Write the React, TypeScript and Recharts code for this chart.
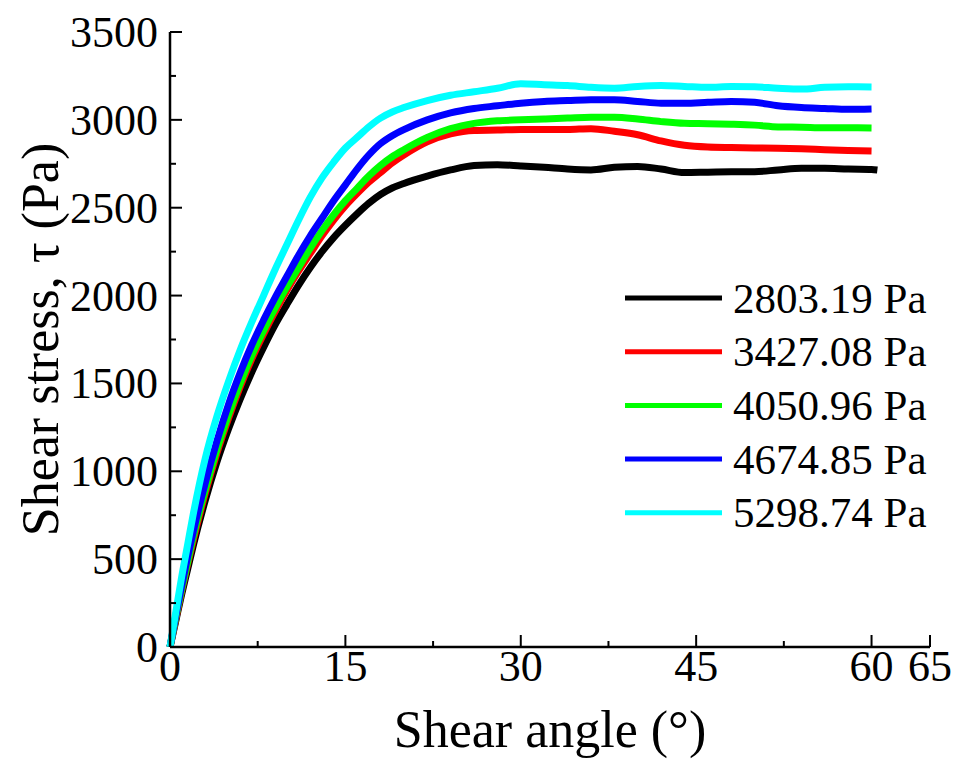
import { LineChart, Line, XAxis, YAxis, Legend, Label } from "recharts";

const angles = [0, 0.5, 1, 1.5, 2, 3, 4, 5, 6, 7, 8, 9, 10, 11, 12, 13, 14, 15, 16, 17, 18, 19, 20, 22, 24, 26, 28, 30, 32, 34, 36, 38, 40, 42, 44, 46, 48, 50, 52, 54, 56, 58, 60, 60.5];

const s2803 = [0, 150, 300, 440, 580, 830, 1050, 1240, 1410, 1565, 1705, 1835, 1950, 2060, 2160, 2250, 2330, 2400, 2465, 2525, 2575, 2612, 2638, 2680, 2715, 2740, 2745, 2738, 2730, 2720, 2715, 2730, 2735, 2720, 2700, 2702, 2704, 2705, 2715, 2725, 2725, 2720, 2718, 2715];
const s3427 = [0, 160, 320, 470, 610, 870, 1100, 1300, 1480, 1640, 1780, 1910, 2030, 2140, 2240, 2340, 2430, 2510, 2580, 2645, 2700, 2755, 2800, 2875, 2920, 2940, 2942, 2945, 2945, 2945, 2950, 2935, 2915, 2880, 2855, 2845, 2842, 2840, 2838, 2835, 2830, 2826, 2823, null];
const s4050 = [0, 170, 330, 480, 630, 890, 1120, 1320, 1500, 1660, 1800, 1930, 2050, 2160, 2270, 2370, 2460, 2540, 2610, 2680, 2740, 2790, 2830, 2900, 2950, 2980, 2995, 3000, 3005, 3010, 3015, 3015, 3005, 2990, 2980, 2978, 2975, 2970, 2960, 2958, 2955, 2955, 2954, null];
const s4674 = [0, 180, 350, 510, 660, 930, 1170, 1380, 1560, 1720, 1860, 1990, 2110, 2230, 2340, 2440, 2540, 2630, 2720, 2800, 2865, 2910, 2945, 3000, 3040, 3065, 3080, 3095, 3105, 3110, 3115, 3115, 3105, 3095, 3095, 3100, 3105, 3100, 3080, 3070, 3065, 3060, 3062, null];
const s5298 = [0, 200, 400, 580, 760, 1070, 1310, 1510, 1690, 1850, 2000, 2150, 2290, 2430, 2560, 2670, 2760, 2840, 2900, 2960, 3010, 3045, 3070, 3110, 3140, 3160, 3180, 3205, 3200, 3195, 3185, 3180, 3190, 3195, 3190, 3185, 3190, 3188, 3180, 3175, 3185, 3188, 3187, null];

const seriesNames = ["2803.19 Pa", "3427.08 Pa", "4050.96 Pa", "4674.85 Pa", "5298.74 Pa"];
const seriesColors = ["#000000", "#ff0000", "#00ff00", "#0000ff", "#00ffff"];
const seriesValues = [s2803, s3427, s4050, s4674, s5298];

const xTicks = [0, 7.5, 15, 22.5, 30, 37.5, 45, 52.5, 60, 65];
const xLabels = [0, 15, 30, 45, 60, 65];
const yTicks = [0, 250, 500, 750, 1000, 1250, 1500, 1750, 2000, 2250, 2500, 2750, 3000, 3250, 3500];
const yLabels = [0, 500, 1000, 1500, 2000, 2500, 3000, 3500];

const data = angles.map((a, i) => {
  const row: Record<string, number | null> = { angle: a };
  seriesValues.forEach((s, k) => (row["s" + k] = s[i]));
  return row;
});

const FONT = "Liberation Serif, Times New Roman, serif";

function XTick(props: any) {
  const { x, y, payload } = props;
  const major = xLabels.includes(payload.value);
  return (
    <g>
      <line x1={x} x2={x} y1={y} y2={y - (major ? 12 : 6)} stroke="#000" strokeWidth={2} />
      {major && (
        <text x={x} y={y + 34} textAnchor="middle" fontSize={44} fontFamily={FONT} fill="#000">
          {payload.value}
        </text>
      )}
    </g>
  );
}

function YTick(props: any) {
  const { x, y, payload } = props;
  const major = yLabels.includes(payload.value);
  return (
    <g>
      <line x1={x} x2={x + (major ? 12 : 6)} y1={y} y2={y} stroke="#000" strokeWidth={2} />
      {major && (
        <text x={x - 12} y={y} dy="0.34em" textAnchor="end" fontSize={44} fontFamily={FONT} fill="#000">
          {payload.value}
        </text>
      )}
    </g>
  );
}

function LegendBox() {
  const rowH = 53.7;
  return (
    <svg width={330} height={rowH * seriesNames.length} style={{ display: "block" }}>
      {seriesNames.map((n, i) => {
        const cy = 27 + i * rowH;
        return (
          <g key={n}>
            <line x1={5} x2={102} y1={cy} y2={cy} stroke={seriesColors[i]} strokeWidth={5} />
            <text x={113} y={cy} dy="0.34em" fontSize={43} fontFamily={FONT} fill="#000">
              {n}
            </text>
          </g>
        );
      })}
    </svg>
  );
}

export default function App() {
  return (
    <div style={{ width: 958, height: 772, background: "#fff" }}>
      <style>{"body{margin:0}"}</style>
      <LineChart width={958} height={772} data={data} margin={{ top: 32, right: 28, bottom: 0, left: 0 }}>
        <XAxis
          dataKey="angle"
          type="number"
          domain={[0, 65]}
          ticks={xTicks}
          interval={0}
          height={125}
          tickSize={0}
          tickMargin={0}
          tickLine={false}
          tick={<XTick />}
          axisLine={{ stroke: "#000", strokeWidth: 2.5 }}
        >
          <Label value="Shear angle (°)" position="insideBottom" offset={25} fontSize={52} fontFamily={FONT} fill="#000" />
        </XAxis>
        <YAxis
          type="number"
          domain={[0, 3500]}
          ticks={yTicks}
          interval={0}
          width={170}
          tickSize={0}
          tickMargin={0}
          tickLine={false}
          tick={<YTick />}
          axisLine={{ stroke: "#000", strokeWidth: 2.5 }}
        >
          <Label
            content={(p: any) => {
              const vb = p.viewBox;
              const cx = 58;
              const cy = vb.y + vb.height / 2;
              return (
                <text x={cx} y={cy} transform={`rotate(-90, ${cx}, ${cy})`} textAnchor="middle" fontSize={52} fontFamily={FONT} fill="#000">
                  Shear stress, τ (Pa)
                </text>
              );
            }}
          />
        </YAxis>
        <Legend
          layout="vertical"
          align="center"
          verticalAlign="middle"
          content={<LegendBox />}
          wrapperStyle={{ left: 620, top: 271, width: 330 }}
        />
        {seriesNames.map((n, i) => (
          <Line
            key={n}
            dataKey={"s" + i}
            name={n}
            type="monotone"
            stroke={seriesColors[i]}
            strokeWidth={7}
            dot={false}
            isAnimationActive={false}
          />
        ))}
      </LineChart>
    </div>
  );
}
